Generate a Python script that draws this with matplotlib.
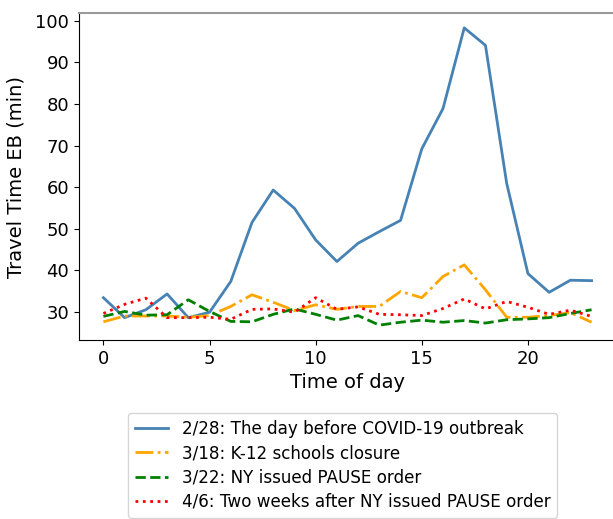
import matplotlib
matplotlib.use("Agg")
import matplotlib.pyplot as plt

hours = list(range(24))
feb28 = [33.4, 28.6, 30.5, 34.3, 28.6, 29.9, 37.3, 51.5, 59.3, 54.9, 47.3, 42.1,
         46.5, 49.3, 52.0, 69.2, 78.9, 98.3, 94.1, 60.9, 39.2, 34.7, 37.6, 37.5]
mar18 = [27.6, 29.0, 29.0, 29.0, 28.7, 29.1, 31.3, 34.1, 32.3, 30.3, 31.7, 30.6,
         31.3, 31.3, 34.9, 33.4, 38.5, 41.3, 35.3, 28.7, 28.7, 29.1, 29.8, 27.5]
mar22 = [28.9, 30.1, 29.2, 29.3, 32.9, 30.1, 27.7, 27.6, 29.4, 30.7, 29.4, 28.0,
         29.1, 26.8, 27.5, 28.0, 27.5, 27.9, 27.3, 28.1, 28.3, 28.6, 29.6, 30.5]
apr6 = [29.6, 31.8, 33.3, 28.6, 28.6, 28.7, 28.2, 30.6, 30.7, 29.9, 33.4, 30.6,
        31.2, 29.4, 29.3, 29.1, 30.8, 33.1, 30.7, 32.5, 31.1, 29.4, 30.4, 28.9]
labels = ["2/28: The day before COVID-19 outbreak",
          "3/18: K-12 schools closure",
          "3/22: NY issued PAUSE order",
          "4/6: Two weeks after NY issued PAUSE order"]

W, H = 613, 519
fig = plt.figure(figsize=(W / 100, H / 100), dpi=100)
left, right, top, bottom = 79, 616, 13, 340
ax = fig.add_axes([left / W, 1 - bottom / H, (right - left) / W, (bottom - top) / H])

ax.plot(hours, feb28, color="steelblue", lw=2, ls="-", label=labels[0])
ax.plot(hours, mar18, color="orange", lw=2, ls="-.", label=labels[1])
ax.plot(hours, mar22, color="green", lw=2, ls="--", label=labels[2])
ax.plot(hours, apr6, color="red", lw=2, ls=":", label=labels[3])

ax.set_xticks([0, 5, 10, 15, 20])
ax.set_yticks([30, 40, 50, 60, 70, 80, 90, 100])
ax.tick_params(labelsize=13)
ax.set_xlabel("Time of day", fontsize=14)
ax.set_ylabel("Travel Time EB (min)", fontsize=14)
ax.yaxis.set_label_coords(-0.1, 0.5)
ax.spines["top"].set_color("#999999")
ax.spines["top"].set_linewidth(1.5)

fig.legend(loc="upper left", bbox_to_anchor=(128 / W, 1 - 413 / H), fontsize=12.1,
           handlelength=2.0, labelspacing=0.38, borderaxespad=0)

fig.savefig("out.png", dpi=100)
